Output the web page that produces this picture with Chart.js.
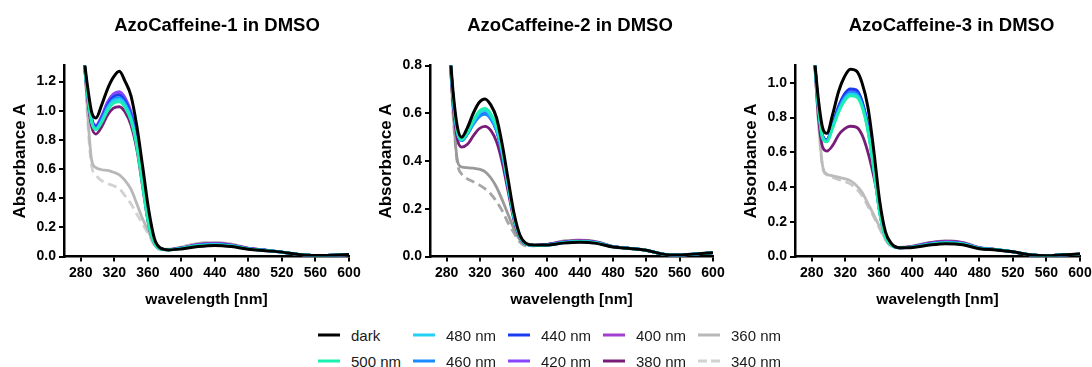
<!DOCTYPE html>
<html>
<head>
<meta charset="utf-8">
<script src="https://cdn.jsdelivr.net/npm/chart.js@4.4.0/dist/chart.umd.min.js"></script>
<style>
  html, body { margin: 0; padding: 0; width: 1092px; height: 367px; overflow: hidden; background: #fff; font-family: "Liberation Sans", Arial, sans-serif; }
  canvas { position: absolute; top: 0; }
  #legend { position: absolute; left: 318px; top: 322px; display: grid; grid-template-rows: 26px 26px; grid-auto-flow: column; grid-auto-columns: 95px; }
  .item { display: flex; align-items: center; font-size: 15px; color: #1a1a1a; white-space: nowrap; }
  .item svg { margin-right: 11px; }
</style>
</head>
<body>
<canvas id="c1" width="434" height="318" style="left:0px"></canvas>
<canvas id="c2" width="408" height="318" style="left:366px"></canvas>
<canvas id="c3" width="441" height="318" style="left:731px"></canvas>
<div id="legend"></div>
<script>
// wavelengths (nm) shared by every spectrum
const wavelengths = [283, 288, 293, 298, 305, 312, 319, 326, 333, 340, 347, 354, 361, 368, 375, 385, 400, 420, 440, 460, 480, 500, 520, 540, 560, 580, 600];

const seriesNames = ['dark', '500 nm', '480 nm', '460 nm', '440 nm', '420 nm', '400 nm', '380 nm', '360 nm', '340 nm'];
const panelTitles = ['AzoCaffeine-1 in DMSO', 'AzoCaffeine-2 in DMSO', 'AzoCaffeine-3 in DMSO'];

const xTicks = [280, 320, 360, 400, 440, 480, 520, 560, 600];
const yTicks1 = [0, 0.2, 0.4, 0.6, 0.8, 1.0, 1.2];
const yTicks2 = [0, 0.2, 0.4, 0.6, 0.8];
const yTicks3 = [0, 0.2, 0.4, 0.6, 0.8, 1.0];
const yMax = [1.31, 0.8, 1.1];

// AzoCaffeine-1
const ac1Dark = [1.40, 1.17, 0.99, 0.95, 1.04, 1.15, 1.23, 1.27, 1.20, 1.10, 0.89, 0.61, 0.32, 0.12, 0.058, 0.045, 0.052, 0.068, 0.076, 0.068, 0.05, 0.04, 0.03, 0.014, 0.007, 0.009, 0.013];
const ac1_500 = [1.40, 1.12, 0.92, 0.87, 0.92, 1.00, 1.05, 1.06, 1.02, 0.93, 0.75, 0.48, 0.22, 0.09, 0.052, 0.045, 0.055, 0.074, 0.08, 0.072, 0.052, 0.042, 0.03, 0.014, 0.007, 0.009, 0.013];
const ac1_480 = [1.40, 1.12, 0.925, 0.875, 0.93, 1.015, 1.067, 1.078, 1.038, 0.946, 0.763, 0.488, 0.224, 0.091, 0.052, 0.045, 0.056, 0.075, 0.081, 0.072, 0.052, 0.042, 0.03, 0.014, 0.007, 0.009, 0.013];
const ac1_460 = [1.40, 1.12, 0.93, 0.88, 0.94, 1.025, 1.078, 1.09, 1.05, 0.956, 0.771, 0.493, 0.226, 0.092, 0.053, 0.045, 0.056, 0.076, 0.082, 0.073, 0.053, 0.042, 0.03, 0.014, 0.007, 0.009, 0.013];
const ac1_440 = [1.40, 1.125, 0.94, 0.89, 0.95, 1.04, 1.095, 1.107, 1.065, 0.971, 0.783, 0.501, 0.23, 0.094, 0.053, 0.046, 0.057, 0.078, 0.084, 0.075, 0.054, 0.043, 0.03, 0.014, 0.007, 0.009, 0.013];
const ac1_420 = [1.40, 1.13, 0.95, 0.90, 0.965, 1.06, 1.115, 1.13, 1.087, 0.99, 0.80, 0.51, 0.234, 0.096, 0.054, 0.047, 0.058, 0.08, 0.087, 0.077, 0.055, 0.043, 0.03, 0.014, 0.007, 0.009, 0.013];
const ac1_400 = [1.40, 1.13, 0.945, 0.895, 0.96, 1.055, 1.107, 1.12, 1.078, 0.983, 0.793, 0.507, 0.233, 0.095, 0.054, 0.047, 0.058, 0.081, 0.088, 0.078, 0.055, 0.043, 0.03, 0.014, 0.007, 0.009, 0.013];
const ac1_380 = [1.40, 1.09, 0.89, 0.84, 0.89, 0.97, 1.017, 1.027, 0.99, 0.90, 0.73, 0.47, 0.215, 0.09, 0.053, 0.047, 0.06, 0.083, 0.09, 0.08, 0.056, 0.044, 0.03, 0.014, 0.007, 0.009, 0.013];
const ac1_360 = [1.50, 1.00, 0.66, 0.61, 0.595, 0.59, 0.578, 0.56, 0.52, 0.46, 0.36, 0.255, 0.17, 0.08, 0.05, 0.05, 0.065, 0.09, 0.097, 0.085, 0.058, 0.045, 0.03, 0.014, 0.007, 0.009, 0.013];
const ac1_340 = [1.50, 0.95, 0.62, 0.56, 0.52, 0.50, 0.485, 0.465, 0.415, 0.36, 0.29, 0.22, 0.15, 0.075, 0.045, 0.048, 0.065, 0.09, 0.097, 0.085, 0.058, 0.045, 0.03, 0.014, 0.007, 0.009, 0.013];

// AzoCaffeine-2
const ac2Dark = [0.90, 0.68, 0.54, 0.50, 0.54, 0.60, 0.645, 0.66, 0.635, 0.58, 0.465, 0.32, 0.18, 0.09, 0.056, 0.048, 0.048, 0.056, 0.06, 0.055, 0.04, 0.034, 0.026, 0.01, 0.006, 0.011, 0.016];
const ac2_500 = [0.90, 0.66, 0.52, 0.49, 0.52, 0.57, 0.608, 0.62, 0.598, 0.545, 0.44, 0.30, 0.165, 0.085, 0.053, 0.047, 0.048, 0.058, 0.062, 0.057, 0.04, 0.034, 0.026, 0.01, 0.006, 0.011, 0.016];
const ac2_480 = [0.90, 0.66, 0.52, 0.488, 0.517, 0.563, 0.599, 0.61, 0.589, 0.537, 0.434, 0.296, 0.163, 0.084, 0.053, 0.047, 0.048, 0.058, 0.062, 0.057, 0.04, 0.034, 0.026, 0.01, 0.006, 0.011, 0.016];
const ac2_460 = [0.90, 0.655, 0.515, 0.485, 0.512, 0.553, 0.585, 0.595, 0.575, 0.525, 0.425, 0.29, 0.16, 0.083, 0.052, 0.047, 0.048, 0.058, 0.062, 0.057, 0.04, 0.034, 0.026, 0.01, 0.006, 0.011, 0.016];
const ac2_440 = [0.90, 0.655, 0.517, 0.486, 0.514, 0.556, 0.588, 0.598, 0.578, 0.527, 0.427, 0.292, 0.161, 0.083, 0.052, 0.047, 0.049, 0.059, 0.063, 0.058, 0.041, 0.034, 0.026, 0.01, 0.006, 0.011, 0.016];
const ac2_420 = [0.90, 0.655, 0.518, 0.487, 0.515, 0.558, 0.59, 0.601, 0.58, 0.529, 0.428, 0.292, 0.161, 0.083, 0.052, 0.047, 0.049, 0.06, 0.064, 0.059, 0.041, 0.034, 0.026, 0.01, 0.006, 0.011, 0.016];
const ac2_400 = [0.90, 0.658, 0.519, 0.488, 0.516, 0.56, 0.594, 0.605, 0.584, 0.532, 0.43, 0.294, 0.162, 0.084, 0.052, 0.047, 0.049, 0.06, 0.065, 0.059, 0.041, 0.034, 0.026, 0.01, 0.006, 0.011, 0.016];
const ac2_380 = [0.90, 0.63, 0.49, 0.458, 0.47, 0.505, 0.535, 0.545, 0.528, 0.48, 0.39, 0.27, 0.15, 0.08, 0.052, 0.047, 0.05, 0.061, 0.066, 0.06, 0.041, 0.034, 0.026, 0.01, 0.006, 0.011, 0.016];
const ac2_360 = [0.90, 0.60, 0.40, 0.375, 0.372, 0.37, 0.366, 0.356, 0.33, 0.29, 0.235, 0.175, 0.115, 0.07, 0.05, 0.046, 0.05, 0.064, 0.068, 0.062, 0.042, 0.034, 0.026, 0.01, 0.006, 0.011, 0.016];
const ac2_340 = [0.90, 0.58, 0.39, 0.345, 0.325, 0.313, 0.30, 0.284, 0.262, 0.23, 0.19, 0.14, 0.098, 0.06, 0.045, 0.045, 0.05, 0.064, 0.068, 0.062, 0.042, 0.034, 0.026, 0.01, 0.006, 0.011, 0.016];

// AzoCaffeine-3
const ac3Dark = [1.15, 0.90, 0.74, 0.71, 0.82, 0.95, 1.035, 1.078, 1.07, 1.00, 0.86, 0.61, 0.32, 0.14, 0.075, 0.05, 0.052, 0.066, 0.074, 0.068, 0.045, 0.038, 0.027, 0.01, 0.004, 0.01, 0.014];
const ac3_500 = [1.15, 0.85, 0.68, 0.66, 0.74, 0.83, 0.895, 0.925, 0.92, 0.86, 0.72, 0.50, 0.25, 0.11, 0.065, 0.05, 0.054, 0.07, 0.078, 0.072, 0.047, 0.039, 0.027, 0.01, 0.004, 0.01, 0.014];
const ac3_480 = [1.15, 0.855, 0.685, 0.663, 0.745, 0.838, 0.905, 0.935, 0.93, 0.868, 0.727, 0.505, 0.252, 0.111, 0.065, 0.05, 0.054, 0.07, 0.079, 0.072, 0.047, 0.039, 0.027, 0.01, 0.004, 0.01, 0.014];
const ac3_460 = [1.15, 0.86, 0.69, 0.667, 0.752, 0.847, 0.915, 0.945, 0.94, 0.877, 0.735, 0.51, 0.255, 0.112, 0.066, 0.05, 0.055, 0.071, 0.08, 0.073, 0.048, 0.039, 0.027, 0.01, 0.004, 0.01, 0.014];
const ac3_440 = [1.15, 0.865, 0.695, 0.672, 0.765, 0.865, 0.935, 0.965, 0.96, 0.895, 0.75, 0.52, 0.26, 0.114, 0.066, 0.05, 0.055, 0.072, 0.081, 0.074, 0.048, 0.039, 0.027, 0.01, 0.004, 0.01, 0.014];
const ac3_420 = [1.15, 0.865, 0.695, 0.671, 0.762, 0.86, 0.93, 0.96, 0.955, 0.89, 0.746, 0.518, 0.259, 0.114, 0.066, 0.05, 0.056, 0.074, 0.083, 0.076, 0.049, 0.04, 0.027, 0.01, 0.004, 0.01, 0.014];
const ac3_400 = [1.15, 0.862, 0.692, 0.67, 0.76, 0.856, 0.925, 0.955, 0.95, 0.886, 0.742, 0.515, 0.258, 0.113, 0.066, 0.05, 0.056, 0.075, 0.085, 0.077, 0.05, 0.04, 0.027, 0.01, 0.004, 0.01, 0.014];
const ac3_380 = [1.15, 0.80, 0.63, 0.607, 0.64, 0.70, 0.735, 0.75, 0.745, 0.70, 0.60, 0.46, 0.29, 0.13, 0.07, 0.052, 0.058, 0.078, 0.088, 0.08, 0.05, 0.04, 0.027, 0.01, 0.004, 0.01, 0.014];
const ac3_360 = [1.15, 0.78, 0.52, 0.475, 0.465, 0.457, 0.448, 0.437, 0.41, 0.37, 0.305, 0.24, 0.17, 0.10, 0.06, 0.05, 0.06, 0.08, 0.09, 0.082, 0.052, 0.04, 0.027, 0.01, 0.004, 0.01, 0.014];
const ac3_340 = [1.15, 0.77, 0.51, 0.47, 0.455, 0.443, 0.432, 0.418, 0.39, 0.352, 0.29, 0.228, 0.16, 0.095, 0.056, 0.05, 0.06, 0.08, 0.09, 0.082, 0.052, 0.04, 0.027, 0.01, 0.004, 0.01, 0.014];

const panels = [
    [ac1Dark, ac1_500, ac1_480, ac1_460, ac1_440, ac1_420, ac1_400, ac1_380, ac1_360, ac1_340],
    [ac2Dark, ac2_500, ac2_480, ac2_460, ac2_440, ac2_420, ac2_400, ac2_380, ac2_360, ac2_340],
    [ac3Dark, ac3_500, ac3_480, ac3_460, ac3_440, ac3_420, ac3_400, ac3_380, ac3_360, ac3_340]
];
const yTickSets = [yTicks1, yTicks2, yTicks3];

const lineColors = ['#000000', '#1cf0b0', '#25d0f5', '#1a8cff', '#1a3cf0', '#8a45ff', '#a33fcc', '#781c78', '#b8b8b8', '#d2d2d2'];
// the middle plot uses a darker grey for the two short-wave curves
const greyOverride = [null, ['#9a9a9a', '#a6a6a6'], ['#bcbcbc', '#c8c8c8']];
// empty space kept right of each plot so the title sits where it should
const rightGap = [85, 61, 92];

const font = 'Liberation Sans, Arial, sans-serif';

function makeChart(id, p) {
    const datasets = panels[p].map((vals, i) => {
        let color = lineColors[i];
        if (greyOverride[p] && i >= 8) color = greyOverride[p][i - 8];
        return {
            label: seriesNames[i],
            data: vals.map((v, k) => ({ x: wavelengths[k], y: v })),
            borderColor: color,
            borderWidth: i === 0 ? 3 : 2.8,
            borderDash: i === 9 ? [9, 5] : [],
            pointRadius: 0,
            fill: false,
            cubicInterpolationMode: 'monotone'
        };
    });
    const ticksY = yTickSets[p];
    return new Chart(document.getElementById(id).getContext('2d'), {
        type: 'line',
        data: { datasets },
        options: {
            responsive: false,
            animation: false,
            layout: { padding: 0 },
            plugins: {
                legend: { display: false },
                tooltip: { enabled: false },
                title: {
                    display: true,
                    text: panelTitles[p],
                    color: '#000',
                    font: { family: font, size: 18.5, weight: 'bold' },
                    padding: { top: 14.4, bottom: 28.9 }
                }
            },
            scales: {
                x: {
                    type: 'linear',
                    min: 260,
                    max: 600,
                    afterBuildTicks: (axis) => { axis.ticks = xTicks.map(v => ({ value: v })); },
                    afterFit: (scale) => { scale.height = 61.5; },
                    grid: { drawOnChartArea: false, color: '#000', lineWidth: 2, tickLength: 5 },
                    border: { color: '#000', width: 2.5 },
                    ticks: { color: '#000', padding: 3, maxRotation: 0, font: { family: font, size: 14, weight: 'bold' } },
                    title: {
                        display: true,
                        text: 'wavelength [nm]',
                        color: '#000',
                        font: { family: font, size: 15.5, weight: 'bold' },
                        padding: { top: 0, bottom: 9 }
                    }
                },
                y: {
                    min: 0,
                    max: yMax[p],
                    afterBuildTicks: (axis) => { axis.ticks = ticksY.map(v => ({ value: v })); },
                    afterFit: (scale) => { scale.width = 64; },
                    grid: { drawOnChartArea: false, color: '#000', lineWidth: 2, tickLength: 5 },
                    border: { color: '#000', width: 2.5 },
                    ticks: {
                        color: '#000',
                        padding: 3,
                        font: { family: font, size: 14, weight: 'bold' },
                        callback: (v) => Number(v).toFixed(1)
                    },
                    title: {
                        display: true,
                        text: 'Absorbance A',
                        color: '#000',
                        font: { family: font, size: 17, weight: 'bold' },
                        padding: { top: 10, bottom: 0 }
                    }
                },
                // blank axis on the right, only reserves room
                spacer: {
                    type: 'linear',
                    position: 'right',
                    afterFit: (scale) => { scale.width = rightGap[p]; },
                    grid: { display: false },
                    border: { display: false },
                    ticks: { display: false }
                }
            }
        }
    });
}

makeChart('c1', 0);
makeChart('c2', 1);
makeChart('c3', 2);

// shared legend, two rows filled column by column
const legend = document.getElementById('legend');
seriesNames.forEach((name, i) => {
    const item = document.createElement('div');
    item.className = 'item';
    const dash = i === 9 ? ' stroke-dasharray="9 4"' : '';
    item.innerHTML = '<svg width="22" height="4"><line x1="0" y1="2" x2="22" y2="2" stroke="' + lineColors[i] +
        '" stroke-width="3"' + dash + '/></svg><span>' + name + '</span>';
    legend.appendChild(item);
});
</script>
</body>
</html>
